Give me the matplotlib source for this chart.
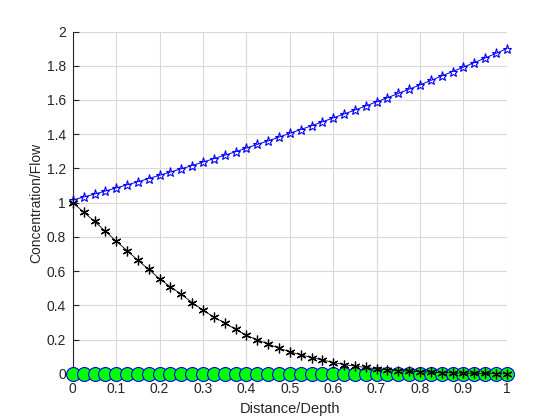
import numpy as np
import matplotlib
matplotlib.use("Agg")
import matplotlib.pyplot as plt

# positions along the depth, 41 samples
x = [0.0, 0.025, 0.05, 0.075, 0.1, 0.125, 0.15, 0.175, 0.2, 0.225,
     0.25, 0.275, 0.3, 0.325, 0.35, 0.375, 0.4, 0.425, 0.45, 0.475,
     0.5, 0.525, 0.55, 0.575, 0.6, 0.625, 0.65, 0.675, 0.7, 0.725,
     0.75, 0.775, 0.8, 0.825, 0.85, 0.875, 0.9, 0.925, 0.95, 0.975, 1.0]

flow = [1.015, 1.033, 1.050, 1.068, 1.086, 1.104, 1.122, 1.141, 1.160, 1.179,
        1.198, 1.217, 1.237, 1.257, 1.277, 1.297, 1.319, 1.340, 1.361, 1.383,
        1.405, 1.427, 1.449, 1.472, 1.495, 1.518, 1.541, 1.565, 1.589, 1.613,
        1.638, 1.663, 1.688, 1.714, 1.740, 1.766, 1.792, 1.818, 1.845, 1.872, 1.900]

concentration = [1.0, 0.945, 0.89, 0.833, 0.775, 0.72, 0.663, 0.61, 0.555, 0.508,
                 0.465, 0.416, 0.372, 0.331, 0.298, 0.259, 0.225, 0.198, 0.175, 0.149,
                 0.129, 0.111, 0.095, 0.081, 0.066, 0.054, 0.045, 0.037, 0.029, 0.024,
                 0.019, 0.015, 0.012, 0.009, 0.007, 0.005, 0.004, 0.003, 0.002, 0.001, 0.0]

baseline = [0.0] * 41

xticks = [0, 0.1, 0.2, 0.3, 0.4, 0.5, 0.6, 0.7, 0.8, 0.9, 1]
xticklabels = ["0", "0.1", "0.2", "0.3", "0.4", "0.5", "0.6", "0.7", "0.8", "0.9", "1"]
yticks = [0, 0.2, 0.4, 0.6, 0.8, 1, 1.2, 1.4, 1.6, 1.8, 2]
yticklabels = ["0", "0.2", "0.4", "0.6", "0.8", "1", "1.2", "1.4", "1.6", "1.8", "2"]

plt.rcParams['font.family'] = ['Liberation Sans', 'DejaVu Sans']
txt_color = '#262626'

fig = plt.figure(figsize=(5.6, 4.2), dpi=100)
ax = fig.add_axes([0.13, 0.11, 0.775, 0.815])

ax.plot(x, flow, '-', color='blue', lw=0.7, marker='*', markersize=6.5,
        markerfacecolor='none', markeredgecolor='blue', markeredgewidth=0.8,
        zorder=3, clip_on=False)
ax.plot(x, baseline, 'o', markersize=10, markerfacecolor='#00ff00',
        markeredgecolor='blue', markeredgewidth=0.8, zorder=4, clip_on=False)
ax.plot(x, concentration, '-', color='black', lw=0.6, marker=(6, 2, 0),
        markersize=7, markeredgewidth=0.9, zorder=5, clip_on=False)

ax.set_xlim(0, 1)
ax.set_ylim(0, 2)
ax.set_xticks(xticks)
ax.set_xticklabels(xticklabels)
ax.set_yticks(yticks)
ax.set_yticklabels(yticklabels)

ax.grid(True, color='#d9d9d9', lw=0.8)
ax.set_axisbelow(True)
for side in ['top', 'right']:
    ax.spines[side].set_visible(False)
for side in ['left', 'bottom']:
    ax.spines[side].set_color(txt_color)
    ax.spines[side].set_linewidth(0.8)

ax.tick_params(direction='in', length=4, width=0.8, colors=txt_color,
               labelsize=10)
ax.tick_params(axis='x', pad=6)
ax.tick_params(axis='y', pad=5)
ax.set_xlabel('Distance/Depth', fontsize=10.5, color=txt_color, labelpad=4)
ax.set_ylabel('Concentration/Flow', fontsize=10, color=txt_color, labelpad=2)

fig.savefig('out.png', dpi=100)
